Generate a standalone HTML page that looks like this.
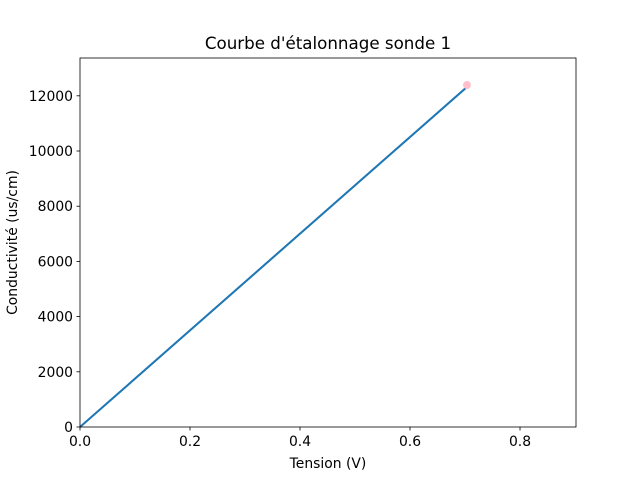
<!DOCTYPE html>
<html><head><meta charset="utf-8"><style>
body{margin:0;background:#fff;}
svg text{font-family:"DejaVu Sans","Liberation Sans",sans-serif;fill:#000;}
</style></head><body>
<svg id="chart" width="640" height="480" viewBox="0 0 640 480" xmlns="http://www.w3.org/2000/svg">
<rect width="640" height="480" fill="#fff"/>
<text x="328" y="49" font-size="16.7" text-anchor="middle">Courbe d'étalonnage sonde 1</text>
<g id="xt"></g><g id="yt"></g>
<g id="marks"></g>
<rect x="80" y="58" width="496" height="369" fill="none" stroke="#000" stroke-width="0.8"/>
<text x="328" y="468" font-size="13.9" text-anchor="middle">Tension (V)</text>
<text transform="translate(17,242.5) rotate(-90)" font-size="13.9" text-anchor="middle">Conductivité (us/cm)</text>
</svg>
<script>
const xTicks=[0,0.2,0.4,0.6,0.8];
const xTickLabels=["0.0","0.2","0.4","0.6","0.8"];
const yTicks=[0,2000,4000,6000,8000,10000,12000];
const lineX=[0,0.707];
const lineY=[0,12380];
const pointX=[0.7036];
const pointY=[12390];
const X0=80,X1=576,Y0=427,Y1=58,XMAX=0.9018,YMAX=13370;
const sx=v=>X0+v/XMAX*(X1-X0);
const sy=v=>Y0-v/YMAX*(Y0-Y1);
const NS="http://www.w3.org/2000/svg";
function mk(t,a,p){const e=document.createElementNS(NS,t);for(const k in a)e.setAttribute(k,a[k]);p.appendChild(e);return e;}
const xt=document.getElementById('xt'),yt=document.getElementById('yt'),m=document.getElementById('marks');
xTicks.forEach((v,i)=>{
 const l=mk('line',{x1:sx(v),x2:sx(v),y1:427,y2:430.5,stroke:'#000','stroke-width':0.8},xt);
 
 
 const t=mk('text',{x:sx(v),y:446,'font-size':13.9,'text-anchor':'middle'},xt);t.textContent=xTickLabels[i];
 
 
});
yTicks.forEach(v=>{
 const l=mk('line',{x1:76.5,x2:80,y1:sy(v),y2:sy(v),stroke:'#000','stroke-width':0.8},yt);
 
 
 const t=mk('text',{x:73,y:sy(v)+5,'font-size':13.9,'text-anchor':'end'},yt);t.textContent=String(v);
 
 
});
const pl=mk('polyline',{points:lineX.map((v,i)=>sx(v)+','+sy(lineY[i])).join(' '),fill:'none',stroke:'#1f77b4','stroke-width':2.08},m);


pointX.forEach((v,i)=>{
 const c=mk('circle',{cx:sx(v),cy:sy(pointY[i]),r:4,fill:'pink'},m);
 
 
});
</script>
</body></html>
